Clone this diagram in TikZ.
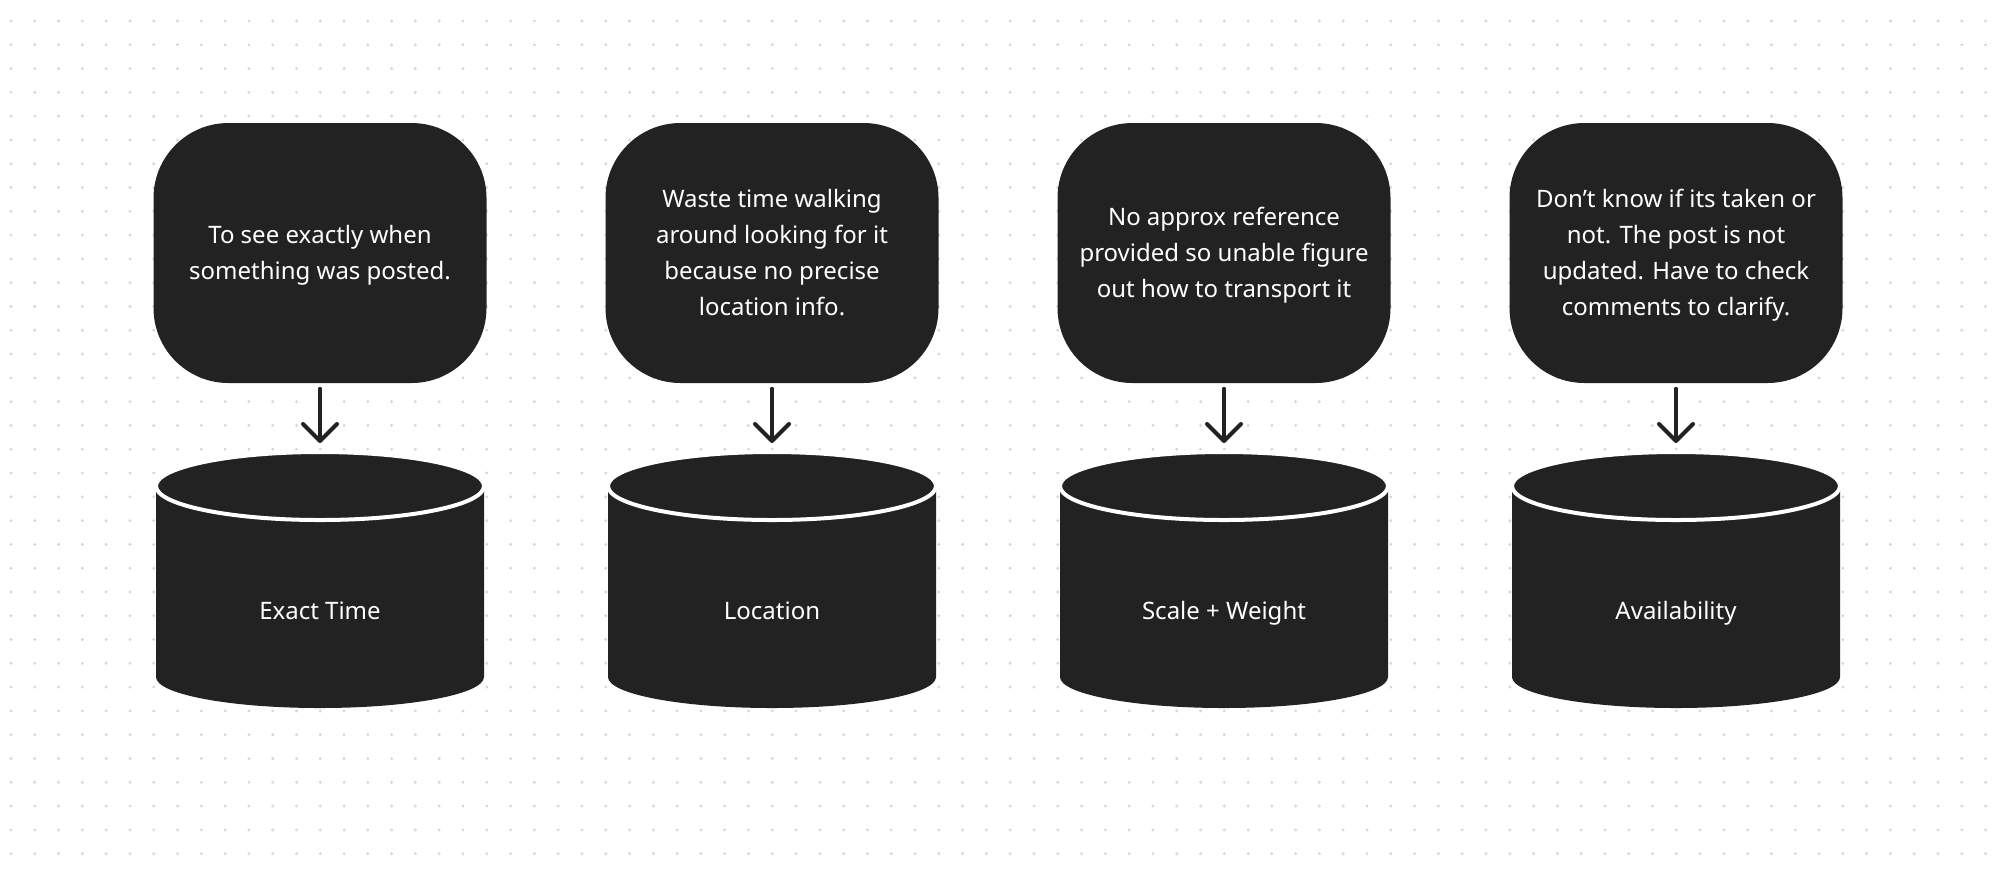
\documentclass[tikz,border=0pt]{standalone}
\usepackage{fontspec}
\setmainfont{Noto Sans}
\usetikzlibrary{arrows.meta,shapes.geometric}

\definecolor{ink}{RGB}{34,34,34}
\definecolor{dotgray}{RGB}{214,214,214}

\tikzset{
  every picture/.style={line width=0.75pt},
  bubble/.style={fill=ink, text=white, rounded corners=37.5pt, minimum width=166.5pt,
    minimum height=130pt, inner sep=0pt, align=center, text depth=1pt,
    font=\fontsize{12}{18}\selectfont},
  can top/.style={ellipse, fill=ink, draw=white, line width=2pt, minimum width=164pt,
    minimum height=34pt, inner sep=0pt},
  can body/.style={fill=ink},
  can label/.style={text=white, text height=9pt, text depth=1pt,
    font=\fontsize{12}{18}\selectfont},
  flow/.style={draw=ink, line width=2pt, line cap=round, shorten <=2.5pt, shorten >=3.5pt,
    -{Straight Barb[length=8.5pt, width=17pt, line cap=round, line join=round]}}
}

\begin{document}
\begin{tikzpicture}[x=0.5pt,y=0.5pt,yscale=-1,xscale=1]
\useasboundingbox (0,0) rectangle (2000,875);

%Dot grid
\foreach \i in {0,...,83} {
  \foreach \j in {0,...,35} {
    \fill[dotgray] (11+\i*23.79,21+\j*23.79) circle[radius=1.6];
  }
}

%Rounded Rect
\node[bubble] (time q) at (320,253) {To see exactly when\\something was posted.};
\node[bubble] (loc q) at (772,253) {Waste time walking\\around looking for it\\because no precise\\location info.};
\node[bubble] (scale q) at (1224,253) {No approx reference\\provided so unable figure\\out how to transport it};
\node[bubble] (avail q) at (1676,253) {Don’t know if its taken or\\not. The post is not\\updated. Have to check\\comments to clarify.};

%Shape: Can
\fill[can body] (156,486) -- (156,677) arc[start angle=180, end angle=0, x radius=164, y radius=31] -- (484,486) -- cycle;
\node[can top] (time top) at (320,486) {};
\node[can label] (time) at (320,611) {Exact Time};

\fill[can body] (608,486) -- (608,677) arc[start angle=180, end angle=0, x radius=164, y radius=31] -- (936,486) -- cycle;
\node[can top] (loc top) at (772,486) {};
\node[can label] (loc) at (772,611) {Location};

\fill[can body] (1060,486) -- (1060,677) arc[start angle=180, end angle=0, x radius=164, y radius=31] -- (1388,486) -- cycle;
\node[can top] (scale top) at (1224,486) {};
\node[can label] (scale) at (1224,611) {Scale + Weight};

\fill[can body] (1512,486) -- (1512,677) arc[start angle=180, end angle=0, x radius=164, y radius=31] -- (1840,486) -- cycle;
\node[can top] (avail top) at (1676,486) {};
\node[can label] (avail) at (1676,611) {Availability};

%Straight Lines
\draw[flow] (time q.south) -- (time top.north);
\draw[flow] (loc q.south) -- (loc top.north);
\draw[flow] (scale q.south) -- (scale top.north);
\draw[flow] (avail q.south) -- (avail top.north);

\end{tikzpicture}
\end{document}
